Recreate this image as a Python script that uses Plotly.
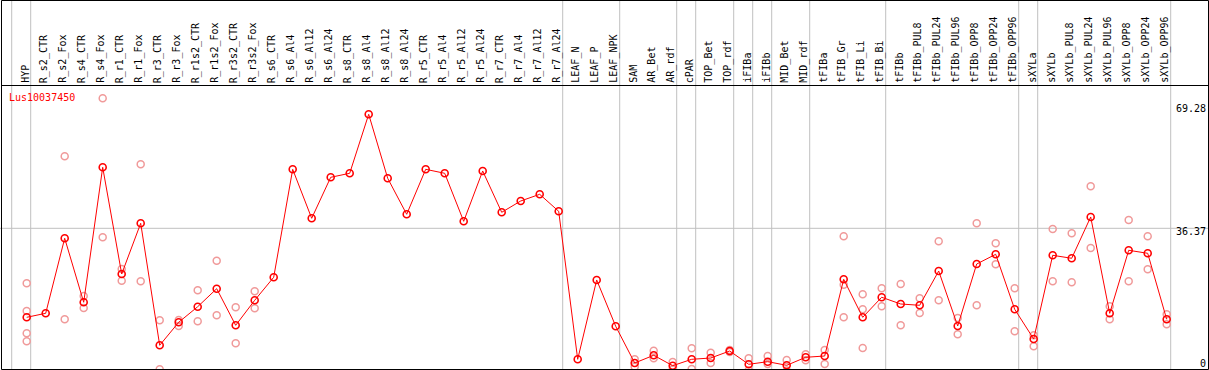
import plotly.graph_objects as go

categories = ["HYP", "R_s2_CTR", "R_s2_Fox", "R_s4_CTR", "R_s4_Fox", "R_r1_CTR", "R_r1_Fox",
              "R_r3_CTR", "R_r3_Fox", "R_r1s2_CTR", "R_r1s2_Fox", "R_r3s2_CTR", "R_r3s2_Fox",
              "R_s6_CTR", "R_s6_Al4", "R_s6_Al12", "R_s6_Al24", "R_s8_CTR", "R_s8_Al4",
              "R_s8_Al12", "R_s8_Al24", "R_r5_CTR", "R_r5_Al4", "R_r5_Al12", "R_r5_Al24",
              "R_r7_CTR", "R_r7_Al4", "R_r7_Al12", "R_r7_Al24", "LEAF_N", "LEAF_P", "LEAF_NPK",
              "SAM", "AR_Bet", "AR_rdf", "cPAR", "TOP_Bet", "TOP_rdf", "iFIBa", "iFIBb",
              "MID_Bet", "MID_rdf", "tFIBa", "tFIB_Gr", "tFIB_Li", "tFIB_Bi", "tFIBb",
              "tFIBb_PUL8", "tFIBb_PUL24", "tFIBb_PUL96", "tFIBb_OPP8", "tFIBb_OPP24",
              "tFIBb_OPP96", "sXYLa", "sXYLb", "sXYLb_PUL8", "sXYLb_PUL24", "sXYLb_PUL96",
              "sXYLb_OPP8", "sXYLb_OPP24", "sXYLb_OPP96"]

mean_values = [12.86, 13.92, 33.73, 16.83, 52.48, 24.30, 37.69, 5.47, 11.54, 15.66, 20.42,
               10.75, 17.35, 23.43, 51.95, 39.01, 49.84, 50.90, 66.48, 49.58, 40.07, 51.95,
               50.90, 38.22, 51.51, 40.60, 43.58, 45.35, 40.86, 1.77, 22.72, 10.49, 0.79,
               2.83, 0.08, 1.77, 2.11, 3.96, 0.45, 1.14, 0.18, 2.30, 2.64, 22.90, 12.86,
               18.15, 16.38, 16.03, 25.09, 10.57, 26.94, 29.50, 14.98, 7.13, 29.24, 28.45,
               39.36, 13.92, 30.56, 29.77, 12.33]

# replicate measurements: (category index, value)
replicate_index = [0, 0, 0, 0, 2, 2, 3, 3, 4, 4, 5, 5, 6, 6, 7, 7, 8, 8, 9, 9, 10, 10,
                   11, 11, 12, 12, 32, 32, 33, 33, 34, 34, 35, 35, 36, 36, 37, 37, 38, 38,
                   39, 39, 40, 40, 41, 41, 42, 42, 43, 43, 43, 44, 44, 44, 45, 45, 46, 46,
                   47, 47, 48, 48, 49, 49, 50, 50, 51, 51, 52, 52, 53, 53, 54, 54, 55, 55,
                   56, 56, 57, 57, 58, 58, 59, 59, 60, 60]
replicate_values = [21.84, 14.53, 8.64, 6.52, 55.39, 12.33, 18.49, 15.32, 70.71, 33.99,
                    25.62, 22.53, 53.27, 22.37, 12.07, -0.87, 12.15, 10.57, 20.0, 11.81,
                    27.81, 13.39, 15.5, 6.0, 19.73, 15.24, 1.77, -0.2, 4.04, 2.03, 1.06,
                    -0.9, 4.67, -0.8, 3.51, 0.79, 4.2, 3.7, 2.03, -1.1, 2.64, 0.53, 1.58,
                    -1.2, 3.1, 1.5, 4.23, 0.53, 34.26, 21.47, 12.86, 18.94, 14.98, 4.75,
                    20.52, 15.77, 21.66, 10.75, 17.88, 14.0, 32.94, 17.35, 12.68, 8.37,
                    37.69, 16.03, 32.41, 26.86, 20.52, 9.17, 8.11, 5.2, 36.19, 22.37,
                    35.05, 22.11, 47.46, 31.17, 15.77, 12.33, 38.56, 22.37, 34.26, 25.54,
                    13.66, 11.01]

gene_name = "Lus10037450"
axis_ticks = [69.28, 36.37, 0]
axis_tick_labels = ["69.28", "36.37", "0"]
group_separators = [-1, 0, 28, 31, 34, 35, 37, 38, 39, 41, 45, 52, 53, 60]

W, H = 1209, 370
X0, DX = 26.7, 19.0          # pixel position of first column, column step
Y0, DY = 366.0, 3.786         # pixel of value 0, pixels per unit

x_idx = list(range(len(categories)))
FONT = "DejaVu Sans Mono"

fig = go.Figure()
fig.add_trace(go.Scatter(
    x=replicate_index, y=replicate_values, mode="markers",
    marker=dict(symbol="circle-open", size=7, color="#f09a9a", line=dict(width=1.5, color="#f09a9a")),
    hoverinfo="skip", showlegend=False, cliponaxis=True))
fig.add_trace(go.Scatter(
    x=x_idx, y=mean_values, mode="lines+markers",
    line=dict(color="#ff0000", width=1),
    marker=dict(symbol="circle-open", size=7, color="#ff0000", line=dict(width=1.6, color="#ff0000")),
    showlegend=False, cliponaxis=True))

shapes = []
for g in group_separators:
    xs = g + 4.0 / DX
    shapes.append(dict(type="line", xref="x", yref="paper", x0=xs, x1=xs, y0=0, y1=1,
                       line=dict(color="#c0c0c0", width=1), layer="below"))
shapes.append(dict(type="line", xref="paper", yref="y", x0=0, x1=1, y0=36.37, y1=36.37,
                   line=dict(color="#c0c0c0", width=1), layer="below"))
# frame
def px(x):
    return x / W
def py(y):
    return 1 - y / H
shapes.append(dict(type="rect", xref="paper", yref="paper", x0=px(1.5), x1=px(1208.5),
                   y0=py(369.5), y1=py(0.5), line=dict(color="black", width=1)))
shapes.append(dict(type="line", xref="paper", yref="paper", x0=px(1.5), x1=px(1208.5),
                   y0=py(85.5), y1=py(85.5), line=dict(color="black", width=1)))

annotations = []
for i, c in enumerate(categories):
    annotations.append(dict(x=i, y=py(84), xref="x", yref="paper", text=c, textangle=-90,
                            showarrow=False, xanchor="center", yanchor="bottom", xshift=-2,
                            font=dict(family=FONT, size=10, color="black"), borderpad=0))
annotations.append(dict(x=px(8), y=py(97), xref="paper", yref="paper", text=gene_name,
                        showarrow=False, xanchor="left", yanchor="middle",
                        font=dict(family=FONT, size=10, color="#ff0000"), borderpad=0))
tick_shift = [-5, -3, 3]
for v, t, s in zip(axis_ticks, axis_tick_labels, tick_shift):
    annotations.append(dict(x=px(1207), y=v, xref="paper", yref="y", text=t, showarrow=False,
                            xanchor="right", yanchor="middle", yshift=s,
                            font=dict(family=FONT, size=10, color="black"), borderpad=0))

fig.update_layout(
    width=W, height=H, margin=dict(l=0, r=0, t=0, b=0),
    paper_bgcolor="white", plot_bgcolor="white",
    xaxis=dict(range=[-X0 / DX, (W - X0) / DX], visible=False, fixedrange=True),
    yaxis=dict(range=[(Y0 - H) / DY, Y0 / DY], visible=False, fixedrange=True),
    shapes=shapes, annotations=annotations, showlegend=False,
)
fig.write_html("out.html", config={"displayModeBar": False},
               post_script="document.body.style.margin='0';document.body.style.overflow='hidden';")
